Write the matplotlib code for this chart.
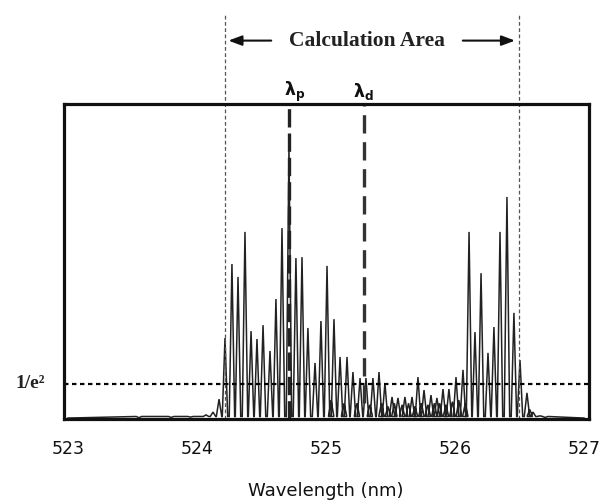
import numpy as np
import matplotlib
matplotlib.use("Agg")
import matplotlib.pyplot as plt
from matplotlib import transforms
from matplotlib.patches import FancyArrowPatch

# ---- data ----
peak_wl = [524.070, 524.124, 524.171, 524.217, 524.271, 524.318, 524.372, 524.419,
           524.465, 524.512, 524.566, 524.612, 524.659, 524.713, 524.767, 524.814,
           524.860, 524.915, 524.961, 525.008, 525.062, 525.109, 525.163, 525.209,
           525.264, 525.310, 525.364, 525.411, 525.457, 525.512, 525.558, 525.612,
           525.667, 525.713, 525.760, 525.814, 525.860, 525.907, 525.953, 526.008,
           526.062, 526.109, 526.155, 526.202, 526.256, 526.302, 526.349, 526.403,
           526.457, 526.504, 526.558, 526.605, 526.659]
peak_int = [0.013, 0.022, 0.063, 0.257, 0.492, 0.451, 0.594, 0.279,
            0.254, 0.298, 0.216, 0.381, 0.606, 0.863, 0.511, 0.514,
            0.289, 0.178, 0.311, 0.486, 0.317, 0.197, 0.197, 0.149,
            0.130, 0.130, 0.130, 0.149, 0.114, 0.070, 0.067, 0.070,
            0.070, 0.133, 0.092, 0.076, 0.067, 0.095, 0.095, 0.133,
            0.156, 0.594, 0.276, 0.463, 0.210, 0.292, 0.594, 0.705,
            0.337, 0.187, 0.083, 0.022, 0.010]
minor_wl = [523.55, 523.80, 523.95, 524.02, 525.04, 525.14, 525.24, 525.34, 525.43,
            525.48, 525.53, 525.59, 525.64, 525.69, 525.74, 525.79, 525.84,
            525.88, 525.93, 525.98, 526.03, 526.08, 526.58, 526.70]
minor_int = [0.004, 0.005, 0.006, 0.008, 0.06, 0.05, 0.05, 0.045, 0.05,
             0.04, 0.05, 0.045, 0.05, 0.04, 0.05, 0.045, 0.05,
             0.05, 0.045, 0.055, 0.06, 0.05, 0.03, 0.005]
xticks = [523, 524, 525, 526, 527]
inv_e2 = 0.111          # level of the 1/e^2 line (fraction of frame height)
calc_area = [524.217, 526.497]
lam_p = 524.713
lam_d = 525.295

# ---- build spectrum polyline from the peaks ----
hw = 0.021
allc = np.array(peak_wl + minor_wl)
alli = np.array(peak_int + minor_int)
order = np.argsort(allc)
allc, alli = allc[order], alli[order]
xs, ys = [523.0], [0.003]
for c, h in zip(allc, alli):
    xs += [c - hw, c, c + hw]
    ys += [0.008, h, 0.008]
xs.append(527.0)
ys.append(0.003)

W, H = 606, 504
fig = plt.figure(figsize=(W / 100, H / 100), dpi=100)
ax = fig.add_axes([64 / W, 1 - 419 / H, (589 - 64) / W, (419 - 104) / H])
ax.set_xlim(522.969, 527.039)
ax.set_ylim(0, 1)

ax.plot(xs, ys, color="#222222", lw=1.1, solid_joinstyle="miter")

for s in ax.spines.values():
    s.set_linewidth(2.3)
    s.set_color("#111111")
ax.set_yticks([])
ax.set_xticks(xticks)
ax.set_xticklabels([str(t) for t in xticks], fontsize=12.5, color="#111111")
ax.tick_params(axis="x", length=0, pad=15)

# 1/e^2 line
ax.axhline(inv_e2, color="black", lw=1.6, ls=(0, (2, 1.6)))
fig.text(45 / W, 1 - 384 / H, "1/e²", ha="right", va="center",
         family="Liberation Serif", fontweight="bold", fontsize=14, color="#222222")

blend = transforms.blended_transform_factory(ax.transData, ax.transAxes)
# calculation area boundaries
for xc in calc_area:
    ax.plot([xc, xc], [0, (419 - 15) / 315], transform=blend, clip_on=False,
            color="#555555", lw=0.9, ls=(0, (3, 2)))
# lambda lines
ax.plot([lam_p, lam_p], [0, 1], transform=blend, color="#222222", lw=2.4,
        ls=(0, (5.5, 1.8)))
ax.plot([lam_d, lam_d], [0.05, 1], transform=blend, color="#333333", lw=2.4,
        ls=(0, (5.5, 2.6)))

ya = (419 - 40.6) / 315
for x0, x1 in [(524.597, calc_area[0] + 0.005), (526.039, calc_area[1] - 0.01)]:
    arr = FancyArrowPatch((x0, ya), (x1, ya), transform=blend, clip_on=False,
                          arrowstyle="-|>,head_length=8,head_width=3",
                          mutation_scale=1, lw=1.5, color="#111111")
    ax.add_patch(arr)
ax.text(525.318, ya, "Calculation Area", transform=blend, ha="center", va="center",
        family="Liberation Serif", fontweight="bold", fontsize=15.5, color="#222222",
        clip_on=False)

yl = (419 - 92) / 315
ax.text(524.755, yl, r"$\mathbf{\lambda_p}$", transform=blend, ha="center", va="center",
        fontsize=12.5, color="#111111", clip_on=False)
ax.text(525.29, yl, r"$\mathbf{\lambda_d}$", transform=blend, ha="center", va="center",
        fontsize=12.5, color="#111111", clip_on=False)

fig.text(326 / W, 1 - 491 / H, "Wavelength (nm)", ha="center", va="center",
         fontsize=13, color="#111111")

fig.savefig("out.png", dpi=100)
